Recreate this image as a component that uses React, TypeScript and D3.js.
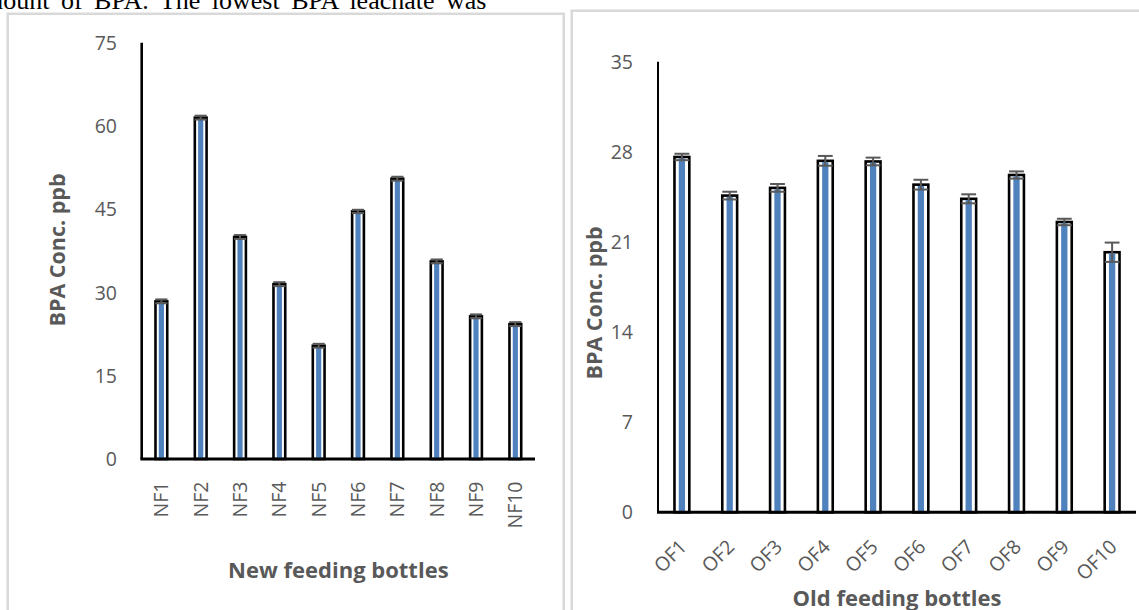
import React from 'react';
import * as d3 from 'd3';

const newCategories = ['NF1', 'NF2', 'NF3', 'NF4', 'NF5', 'NF6', 'NF7', 'NF8', 'NF9', 'NF10'];
const newValues = [28.4, 61.5, 40.0, 31.5, 20.4, 44.6, 50.5, 35.6, 25.7, 24.3];
const newErrors = [0.35, 0.35, 0.35, 0.35, 0.35, 0.3, 0.35, 0.35, 0.35, 0.35];
const newTicks = [0, 15, 30, 45, 60, 75];

const oldCategories = ['OF1', 'OF2', 'OF3', 'OF4', 'OF5', 'OF6', 'OF7', 'OF8', 'OF9', 'OF10'];
const oldValues = [27.6, 24.6, 25.2, 27.3, 27.25, 25.45, 24.35, 26.2, 22.55, 20.2];
const oldErrors = [0.25, 0.3, 0.3, 0.38, 0.3, 0.38, 0.35, 0.28, 0.25, 0.75];
const oldTicks = [0, 7, 14, 21, 28, 35];

const yTitle = 'BPA Conc. ppb';
const newTitle = 'New feeding bottles';
const oldTitle = 'Old feeding bottles';
const topText = 'mount of BPA. The lowest BPA leachate was';

const FONT = "'Open Sans', sans-serif";
const TEXT = '#595959';
const BLUE = '#4f81bd';
const TICK_SIZE = 19.5;

type PanelProps = {
  categories: string[];
  values: number[];
  errors: number[];
  ticks: number[];
  x0: number;
  x1: number;
  yTop: number;
  yBase: number;
  tickRight: number;
  rotate45: boolean;
  labelY: number;
  title: string;
  titleY: number;
  yTitleX: number;
  yTitleY: number;
  yAxisW: number;
};

function Panel(p: PanelProps) {
  const x = d3.scaleBand<string>().domain(p.categories).range([p.x0, p.x1]).padding(0);
  const y = d3.scaleLinear().domain([0, p.ticks[p.ticks.length - 1]]).range([p.yBase, p.yTop]);
  const bw = x.bandwidth() * 0.365;
  const sw = 2.6;
  const blueW = bw * 0.36;
  const capW = bw * 0.85;
  return (
    <g>
      {p.ticks.map((t) => (
        <text key={t} x={p.tickRight} y={y(t)} dy="0.36em" textAnchor="end" fontFamily={FONT} fontSize={TICK_SIZE} fill={TEXT}>
          {t}
        </text>
      ))}
      {p.categories.map((c, i) => {
        const cx = x(c)! + x.bandwidth() / 2;
        const top = y(p.values[i]);
        return (
          <g key={c}>
            <rect x={cx - bw / 2 + sw / 2} y={top} width={bw - sw} height={p.yBase - top} fill="#fff" stroke="#000" strokeWidth={sw} />
            <rect x={cx - blueW / 2} y={top + sw / 2} width={blueW} height={p.yBase - top - sw / 2} fill={BLUE} />
          </g>
        );
      })}
      {p.categories.map((c, i) => {
        const cx = x(c)! + x.bandwidth() / 2;
        const hi = y(p.values[i] + p.errors[i]);
        const lo = y(p.values[i] - p.errors[i]);
        return (
          <g key={'e' + c} stroke="#595959" strokeWidth={2}>
            <line x1={cx} x2={cx} y1={hi} y2={lo} />
            <line x1={cx - capW / 2} x2={cx + capW / 2} y1={hi} y2={hi} />
            <line x1={cx - capW / 2} x2={cx + capW / 2} y1={lo} y2={lo} />
          </g>
        );
      })}
      <line x1={p.x0} x2={p.x0} y1={p.yTop} y2={p.yBase} stroke="#000" strokeWidth={p.yAxisW} />
      <line x1={p.x0 - p.yAxisW / 2} x2={p.x1} y1={p.yBase} y2={p.yBase} stroke="#000" strokeWidth={3} />
      {p.categories.map((c) => {
        const cx = x(c)! + x.bandwidth() / 2;
        if (p.rotate45) {
          return (
            <text key={'l' + c} transform={`translate(${cx + 6},${p.labelY}) rotate(-45)`} textAnchor="end" fontFamily={FONT} fontSize={TICK_SIZE} fill={TEXT}>
              {c}
            </text>
          );
        }
        return (
          <text key={'l' + c} transform={`translate(${cx},${p.labelY}) rotate(-90)`} dy="0.36em" textAnchor="end" fontFamily={FONT} fontSize={TICK_SIZE} fill={TEXT}>
            {c}
          </text>
        );
      })}
      <text x={(p.x0 + p.x1) / 2} y={p.titleY} textAnchor="middle" fontFamily={FONT} fontWeight="bold" fontSize={22} fill={TEXT}>
        {p.title}
      </text>
      <text transform={`translate(${p.yTitleX},${p.yTitleY}) rotate(-90)`} textAnchor="middle" fontFamily={FONT} fontWeight="bold" fontSize={21.5} fill={TEXT}>
        {yTitle}
      </text>
    </g>
  );
}

export default function App() {
  return (
    <svg
      width={1139}
      height={610}
      style={{ position: 'absolute', left: 0, top: 0, background: '#fff', overflow: 'hidden' }}
    >
      <rect x={0} y={0} width={1139} height={610} fill="#fff" />
      <text x={-17} y={9} fontFamily="'Liberation Serif', serif" fontSize={26} wordSpacing={5} fill="#000">
        {topText}
      </text>
      <rect x={7.7} y={13.8} width={556} height={700} fill="#fff" stroke="#d9d9d9" strokeWidth={2.5} />
      <rect x={571.7} y={10.7} width={700} height={700} fill="#fff" stroke="#d9d9d9" strokeWidth={2.5} />
      <Panel
        categories={newCategories}
        values={newValues}
        errors={newErrors}
        ticks={newTicks}
        x0={141.7}
        x1={535}
        yTop={42.7}
        yBase={459}
        tickRight={117}
        rotate45={false}
        labelY={481.5}
        title={newTitle}
        titleY={578}
        yTitleX={65.3}
        yTitleY={250}
        yAxisW={2.6}
      />
      <Panel
        categories={oldCategories}
        values={oldValues}
        errors={oldErrors}
        ticks={oldTicks}
        x0={658}
        x1={1136}
        yTop={61.7}
        yBase={512.3}
        tickRight={633}
        rotate45={true}
        labelY={548}
        title={oldTitle}
        titleY={606}
        yTitleX={601.5}
        yTitleY={303}
        yAxisW={2}
      />
    </svg>
  );
}
